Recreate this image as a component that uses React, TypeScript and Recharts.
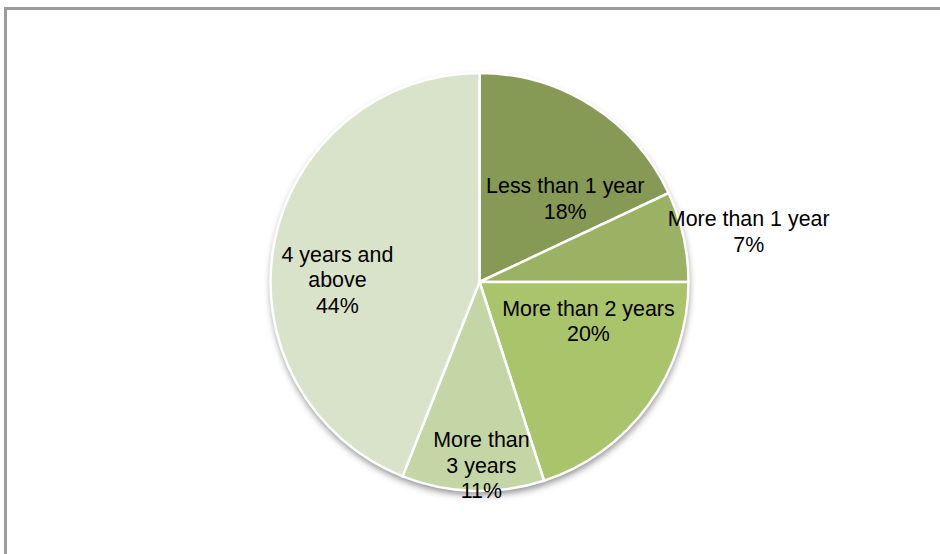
import { PieChart, Pie, Cell } from 'recharts';

const CATEGORIES = ['Less than 1 year', 'More than 1 year', 'More than 2 years', 'More than 3 years', '4 years and above'];
const SHARES = [18, 7, 20, 11, 44];
const LABEL_LINES = [
  ['Less than 1 year', '18%'],
  ['More than 1 year', '7%'],
  ['More than 2 years', '20%'],
  ['More than', '3 years', '11%'],
  ['4 years and', 'above', '44%'],
];

const COLORS = ['#879a55', '#9bb163', '#aac46c', '#c5d6a6', '#d9e3c9'];

// label anchor: angle clockwise from 12 o'clock, distance as fraction of radius
const LABEL_POS: [number, number][] = [
  [46, 0.57],
  [79.5, 1.31],
  [110, 0.555],
  [179.4, 0.88],
  [270.8, 0.68],
];

const chartData = CATEGORIES.map((name, i) => ({ name, value: SHARES[i] }));
const shadowData = [{ name: 'shadow', value: 1 }];

const FONT = '"Liberation Sans", Arial, sans-serif';
const LINE_H = 25.5;

function renderLabel(props: any) {
  const { cx, cy, outerRadius, index } = props;
  const [deg, ratio] = LABEL_POS[index];
  const rad = (deg * Math.PI) / 180;
  const x = cx + Math.sin(rad) * outerRadius * ratio;
  const y = cy - Math.cos(rad) * outerRadius * ratio;
  const lines = LABEL_LINES[index];
  const top = y - ((lines.length - 1) * LINE_H) / 2;
  return (
    <text
      key={`lbl-${index}`}
      x={x}
      y={top}
      textAnchor="middle"
      dominantBaseline="central"
      fontFamily={FONT}
      fontSize={21.4}
      fill="#000"
    >
      {lines.map((l, i) => (
        <tspan key={i} x={x} y={top + i * LINE_H} dominantBaseline="central">
          {l}
        </tspan>
      ))}
    </text>
  );
}

export default function App() {
  return (
    <div style={{ position: 'absolute', left: 0, top: 0, width: 940, height: 554, background: '#fff', overflow: 'hidden' }}>
      <div
        style={{
          position: 'absolute',
          left: 4,
          top: 7,
          width: 960,
          height: 580,
          border: '3px solid #9c9c9c',
          boxSizing: 'border-box',
        }}
      />
      <div style={{ position: 'absolute', left: 0, top: 0 }}>
        <PieChart width={940} height={554} margin={{ top: 0, right: 0, bottom: 0, left: 0 }}>
          <defs>
            <filter id="pieShadow" x="-20%" y="-20%" width="140%" height="140%">
              <feGaussianBlur stdDeviation="3.5" />
            </filter>
          </defs>
          <Pie
            data={shadowData}
            dataKey="value"
            cx={480}
            cy={286}
            outerRadius={209}
            startAngle={90}
            endAngle={-270}
            stroke="none"
            isAnimationActive={false}
          >
            <Cell fill="#000" fillOpacity={0.45} filter="url(#pieShadow)" />
          </Pie>
          <Pie
            data={chartData}
            dataKey="value"
            cx={479.5}
            cy={282}
            outerRadius={209}
            startAngle={90}
            endAngle={-270}
            stroke="#fff"
            strokeWidth={2.5}
            label={renderLabel}
            labelLine={false}
            isAnimationActive={false}
          >
            {chartData.map((_, i) => (
              <Cell key={i} fill={COLORS[i]} />
            ))}
          </Pie>
        </PieChart>
      </div>
    </div>
  );
}
